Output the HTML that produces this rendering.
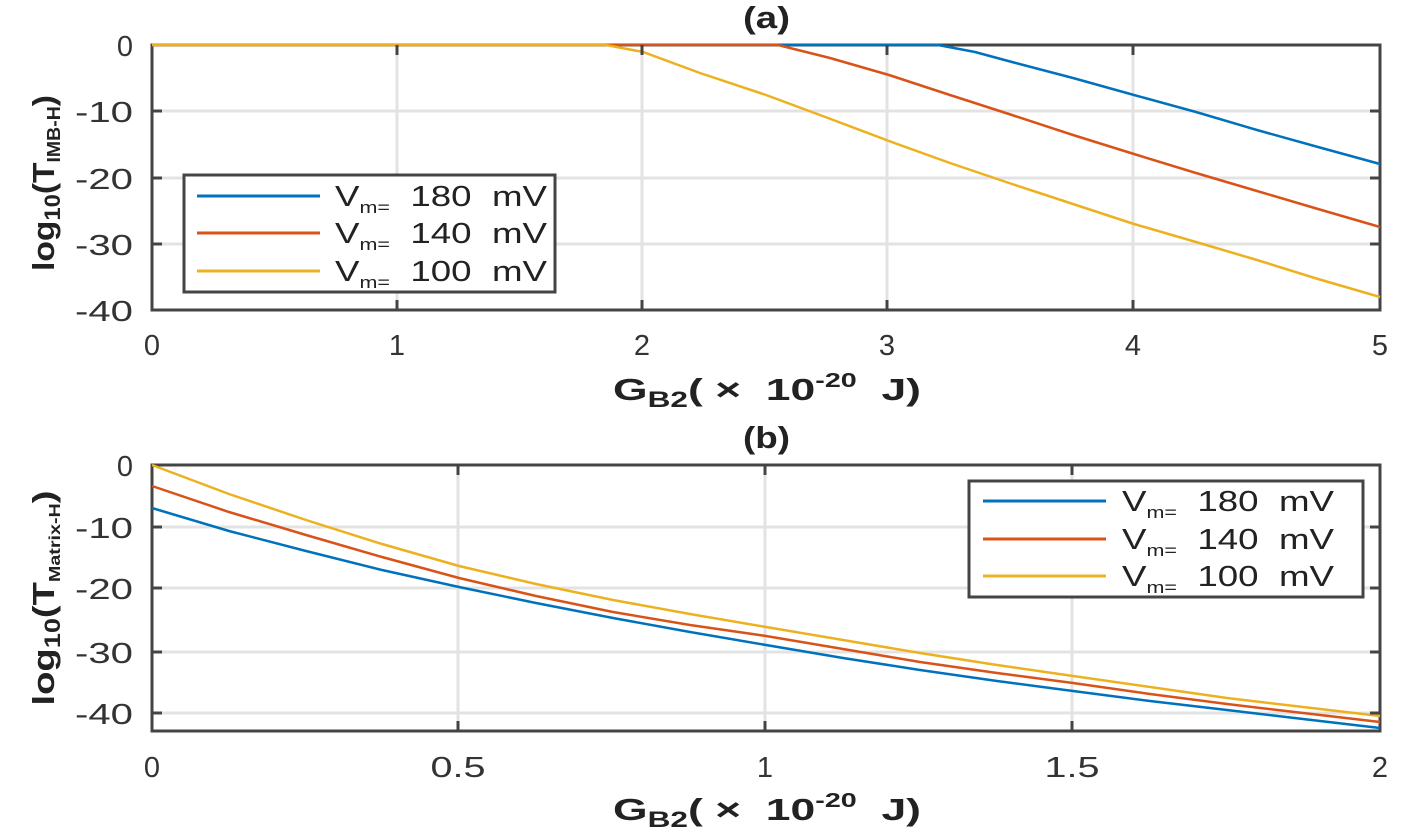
<!DOCTYPE html>
<html><head><meta charset="utf-8"><style>
body{margin:0;background:#fff;width:1401px;height:833px;overflow:hidden}
svg{font-family:"Liberation Sans",sans-serif}
.t{font-size:29px;fill:#333}
.b{font-weight:bold;font-size:31px;fill:#222}
.l{font-size:29px;fill:#222}
</style></head><body>
<svg width="1401" height="833" xmlns="http://www.w3.org/2000/svg">
<!-- top plot -->
<g stroke="#e3e3e3" stroke-width="3">
<line x1="397" y1="45" x2="397" y2="310"/><line x1="642" y1="45" x2="642" y2="310"/><line x1="887" y1="45" x2="887" y2="310"/><line x1="1133" y1="45" x2="1133" y2="310"/>
<line x1="152" y1="111" x2="1380" y2="111"/><line x1="152" y1="178" x2="1380" y2="178"/><line x1="152" y1="244" x2="1380" y2="244"/>
</g>
<rect x="152" y="45" width="1228" height="265" fill="none" stroke="#444" stroke-width="3"/>
<g fill="none" stroke-width="2.5">
<polyline stroke="#0072bd" points="152,45 938,45 975,52 1012,62 1073,78 1134,95 1196,112 1257,130 1318,147 1380,164"/>
<polyline stroke="#d95319" points="152,45 778,45 830,58 889,75 950,95 1012,115 1073,135 1134,154 1196,173 1257,191 1318,209 1380,227"/>
<polyline stroke="#edb120" points="152,45 606,45 643,52 700,73 766,95 828,118 889,141 950,163 1012,184 1073,204 1134,224 1196,242 1257,260 1318,279 1380,297"/>
</g>
<g stroke="#444" stroke-width="3">
<line x1="397" y1="45" x2="397" y2="55"/><line x1="642" y1="45" x2="642" y2="55"/><line x1="887" y1="45" x2="887" y2="55"/><line x1="1133" y1="45" x2="1133" y2="55"/>
<line x1="397" y1="310" x2="397" y2="300"/><line x1="642" y1="310" x2="642" y2="300"/><line x1="887" y1="310" x2="887" y2="300"/><line x1="1133" y1="310" x2="1133" y2="300"/>
<line x1="152" y1="111" x2="162" y2="111"/><line x1="152" y1="178" x2="162" y2="178"/><line x1="152" y1="244" x2="162" y2="244"/>
<line x1="1380" y1="111" x2="1370" y2="111"/><line x1="1380" y1="178" x2="1370" y2="178"/><line x1="1380" y1="244" x2="1370" y2="244"/>
</g>
<g class="t" text-anchor="end">
<text x="133" y="56">0</text><text x="133" y="122" textLength="58" lengthAdjust="spacingAndGlyphs">-10</text><text x="133" y="189" textLength="58" lengthAdjust="spacingAndGlyphs">-20</text><text x="133" y="255" textLength="58" lengthAdjust="spacingAndGlyphs">-30</text><text x="133" y="321" textLength="58" lengthAdjust="spacingAndGlyphs">-40</text>
</g>
<g class="t" text-anchor="middle">
<text x="152" y="355">0</text><text x="397" y="355">1</text><text x="642" y="355">2</text><text x="887" y="355">3</text><text x="1133" y="355">4</text><text x="1380" y="355">5</text>
</g>
<text x="743" y="28" class="b" font-size="26" textLength="47" lengthAdjust="spacingAndGlyphs">(a)</text>
<text x="613" y="400" class="b" textLength="308" lengthAdjust="spacingAndGlyphs">G<tspan font-size="22" dy="7">B2</tspan><tspan dy="-7">( × &#160;10</tspan><tspan font-size="20" dy="-13">-20</tspan><tspan dy="13"> &#160;J)</tspan></text>
<text transform="translate(54,183) rotate(-90)" class="b" text-anchor="middle" textLength="176" lengthAdjust="spacingAndGlyphs">log<tspan font-size="22" dy="6">10</tspan><tspan dy="-6">(T</tspan><tspan font-size="18" dy="6">IMB-H</tspan><tspan dy="-6">)</tspan></text>
<rect x="184" y="175" width="371" height="117" fill="#fff" stroke="#444" stroke-width="3"/>
<g stroke-width="3"><line x1="197" y1="196" x2="320" y2="196" stroke="#0072bd"/><line x1="197" y1="233" x2="320" y2="233" stroke="#d95319"/><line x1="197" y1="271" x2="320" y2="271" stroke="#edb120"/></g>
<g class="l"><text x="335" y="206" textLength="212" lengthAdjust="spacingAndGlyphs">V<tspan font-size="17" dy="7">m=</tspan><tspan dy="-7"> &#160;180 &#160;mV</tspan></text>
<text x="335" y="243" textLength="212" lengthAdjust="spacingAndGlyphs">V<tspan font-size="17" dy="7">m=</tspan><tspan dy="-7"> &#160;140 &#160;mV</tspan></text>
<text x="335" y="281" textLength="212" lengthAdjust="spacingAndGlyphs">V<tspan font-size="17" dy="7">m=</tspan><tspan dy="-7"> &#160;100 &#160;mV</tspan></text></g>

<!-- bottom plot -->
<g stroke="#e3e3e3" stroke-width="3">
<line x1="458" y1="465" x2="458" y2="731"/><line x1="765" y1="465" x2="765" y2="731"/><line x1="1072" y1="465" x2="1072" y2="731"/>
<line x1="152" y1="527" x2="1380" y2="527"/><line x1="152" y1="588" x2="1380" y2="588"/><line x1="152" y1="652" x2="1380" y2="652"/><line x1="152" y1="713" x2="1380" y2="713"/>
</g>
<rect x="152" y="465" width="1228" height="266" fill="none" stroke="#444" stroke-width="3"/>
<g fill="none" stroke-width="2.5">
<polyline stroke="#0072bd" points="152,508 229,531 306,551 382,570 459,587 536,603 613,618 690,632 766,645 843,658 920,670 997,681 1073,691 1150,701 1227,710 1303,719 1380,728"/>
<polyline stroke="#d95319" points="152,486 229,512 306,535 382,557 459,578 536,596 613,612 690,625 766,636 843,649 920,662 997,673 1073,683 1150,694 1227,704 1303,713 1380,722"/>
<polyline stroke="#edb120" points="152,465 229,494 306,520 382,544 459,566 536,584 613,600 690,614 766,627 843,640 920,653 997,665 1073,676 1150,687 1227,698 1303,707 1380,716"/>
</g>
<g stroke="#444" stroke-width="3">
<line x1="458" y1="465" x2="458" y2="475"/><line x1="765" y1="465" x2="765" y2="475"/><line x1="1072" y1="465" x2="1072" y2="475"/>
<line x1="458" y1="731" x2="458" y2="721"/><line x1="765" y1="731" x2="765" y2="721"/><line x1="1072" y1="731" x2="1072" y2="721"/>
<line x1="152" y1="527" x2="162" y2="527"/><line x1="152" y1="588" x2="162" y2="588"/><line x1="152" y1="652" x2="162" y2="652"/><line x1="152" y1="713" x2="162" y2="713"/>
<line x1="1380" y1="527" x2="1370" y2="527"/><line x1="1380" y1="588" x2="1370" y2="588"/><line x1="1380" y1="652" x2="1370" y2="652"/><line x1="1380" y1="713" x2="1370" y2="713"/>
</g>
<g class="t" text-anchor="end">
<text x="133" y="476">0</text><text x="133" y="538" textLength="58" lengthAdjust="spacingAndGlyphs">-10</text><text x="133" y="599" textLength="58" lengthAdjust="spacingAndGlyphs">-20</text><text x="133" y="663" textLength="58" lengthAdjust="spacingAndGlyphs">-30</text><text x="133" y="724" textLength="58" lengthAdjust="spacingAndGlyphs">-40</text>
</g>
<g class="t" text-anchor="middle">
<text x="152" y="777">0</text><text x="458" y="777" textLength="55" lengthAdjust="spacingAndGlyphs">0.5</text><text x="765" y="777">1</text><text x="1072" y="777" textLength="55" lengthAdjust="spacingAndGlyphs">1.5</text><text x="1380" y="777">2</text>
</g>
<text x="743" y="448" class="b" font-size="26" textLength="47" lengthAdjust="spacingAndGlyphs">(b)</text>
<text x="613" y="820" class="b" textLength="308" lengthAdjust="spacingAndGlyphs">G<tspan font-size="22" dy="7">B2</tspan><tspan dy="-7">( × &#160;10</tspan><tspan font-size="20" dy="-13">-20</tspan><tspan dy="13"> &#160;J)</tspan></text>
<text transform="translate(54,598) rotate(-90)" class="b" text-anchor="middle" textLength="215" lengthAdjust="spacingAndGlyphs">log<tspan font-size="22" dy="6">10</tspan><tspan dy="-6">(T</tspan><tspan font-size="16" dy="6">Matrix-H</tspan><tspan dy="-6">)</tspan></text>
<rect x="969" y="481" width="394" height="116" fill="#fff" stroke="#444" stroke-width="3"/>
<g stroke-width="3"><line x1="983" y1="501" x2="1106" y2="501" stroke="#0072bd"/><line x1="983" y1="539" x2="1106" y2="539" stroke="#d95319"/><line x1="983" y1="576" x2="1106" y2="576" stroke="#edb120"/></g>
<g class="l"><text x="1122" y="511" textLength="212" lengthAdjust="spacingAndGlyphs">V<tspan font-size="17" dy="7">m=</tspan><tspan dy="-7"> &#160;180 &#160;mV</tspan></text>
<text x="1122" y="549" textLength="212" lengthAdjust="spacingAndGlyphs">V<tspan font-size="17" dy="7">m=</tspan><tspan dy="-7"> &#160;140 &#160;mV</tspan></text>
<text x="1122" y="586" textLength="212" lengthAdjust="spacingAndGlyphs">V<tspan font-size="17" dy="7">m=</tspan><tspan dy="-7"> &#160;100 &#160;mV</tspan></text></g>
</svg>
</body></html>
